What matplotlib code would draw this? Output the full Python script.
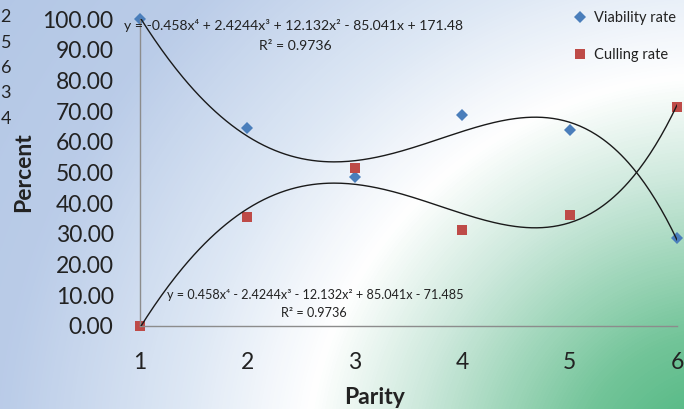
import numpy as np
import matplotlib
matplotlib.use("Agg")
import matplotlib.pyplot as plt
from matplotlib.colors import LinearSegmentedColormap

plt.rcParams['font.family'] = ['Lato', 'DejaVu Sans']

# ---- data ----
parity = [1, 2, 3, 4, 5, 6]
viability = [100.0, 64.5, 48.5, 68.7, 63.7, 28.6]
culling = [0.0, 35.5, 51.5, 31.3, 36.3, 71.4]
y_ticks = [0, 10, 20, 30, 40, 50, 60, 70, 80, 90, 100]
eq_viab = "y = -0.458x\u2074 + 2.4244x\u00b3 + 12.132x\u00b2 - 85.041x + 171.48"
eq_cull = "y = 0.458x\u2074 - 2.4244x\u00b3 - 12.132x\u00b2 + 85.041x - 71.485"
r2_text = "R\u00b2 = 0.9736"
stray_labels = ["2", "5", "6", "3", "4"]

W, H = 684, 409
fig = plt.figure(figsize=(W / 100, H / 100), dpi=100)

# background radial gradient
bg = fig.add_axes([0, 0, 1, 1], zorder=-10)
xx, yy = np.meshgrid(np.arange(W), np.arange(H))
r = np.sqrt((xx - 720) ** 2 + ((yy - 470) * 1.05) ** 2)
cmap = LinearSegmentedColormap.from_list(
    "bg",
    [(0.0, (0.26, 0.70, 0.47)),
     (0.16, (0.45, 0.77, 0.60)),
     (0.34, (0.80, 0.91, 0.86)),
     (0.46, (1.0, 1.0, 1.0)),
     (0.60, (0.87, 0.91, 0.96)),
     (0.80, (0.73, 0.80, 0.91)),
     (1.0, (0.70, 0.78, 0.90))])
bg.imshow(r / 900.0, cmap=cmap, vmin=0, vmax=1, aspect='auto', origin='upper',
          extent=[0, 1, 0, 1])
bg.set_axis_off()

left = 140 / W
right = 677 / W
top = 1 - 19 / H
bottom = 1 - 326 / H
ax = fig.add_axes([left, bottom, right - left, top - bottom])
ax.set_facecolor('none')

xs = np.linspace(1, 6, 300)
pv = np.polyfit(parity, viability, 4)
pc = np.polyfit(parity, culling, 4)
ax.plot(xs, np.polyval(pv, xs), color='#1a1a1a', lw=1.0, zorder=3)
ax.plot(xs, np.polyval(pc, xs), color='#1a1a1a', lw=1.0, zorder=3)

ax.plot(parity, viability, linestyle='none', marker='D', markersize=6.0,
        color='#4a7ebb', markeredgewidth=0, label='Viability rate',
        clip_on=False, zorder=2)
ax.plot(parity, culling, linestyle='none', marker='s', markersize=7.8,
        color='#be4b48', markeredgewidth=0, label='Culling rate',
        clip_on=False, zorder=2)

ax.set_xlim(1, 6)
ax.set_ylim(0, 100)
ax.set_xticks(parity)
ax.set_xticklabels([str(p) for p in parity])
ax.set_yticks(y_ticks)
ax.set_yticklabels([f"{v:.2f}" for v in y_ticks])
ax.tick_params(length=0, labelsize=16.5, colors='#222222')
ax.tick_params(axis='y', pad=19)
ax.tick_params(axis='x', pad=19)
for s in ['top', 'right']:
    ax.spines[s].set_visible(False)
for s in ['left', 'bottom']:
    ax.spines[s].set_color('#8c8c8c')
    ax.spines[s].set_linewidth(1.0)

# equations
fig.text(124 / W, 1 - 26 / H, eq_viab, fontsize=10.1, ha='left', va='center',
         color='#222222')
fig.text(295 / W, 1 - 46 / H, r2_text, fontsize=10.1, ha='center', va='center',
         color='#222222')
fig.text(167 / W, 1 - 295 / H, eq_cull, fontsize=9.1, ha='left', va='center',
         color='#222222')
fig.text(314 / W, 1 - 313 / H, r2_text, fontsize=9.1, ha='center', va='center',
         color='#222222')

# axis titles
fig.text(375 / W, 1 - 397 / H, "Parity", fontsize=16.5, fontweight='bold',
         ha='center', va='center', color='#222222')
fig.text(24 / W, 1 - 172 / H, "Percent", fontsize=16.5, fontweight='bold',
         rotation=90, ha='center', va='center', color='#222222')

# stray labels at the left edge
for i, t in enumerate(stray_labels):
    fig.text(0.5 / W, 1 - (17 + 25.5 * i) / H, t, fontsize=13, ha='left',
             va='center', color='#222222')

leg = ax.legend(loc='upper left', bbox_to_anchor=((568 - 140) / (677 - 140), 1.045),
                frameon=False, fontsize=10.5, labelspacing=1.55,
                handlelength=0.8, handletextpad=0.6, borderaxespad=0,
                labelcolor='#222222')

fig.savefig("out.png", dpi=100)
